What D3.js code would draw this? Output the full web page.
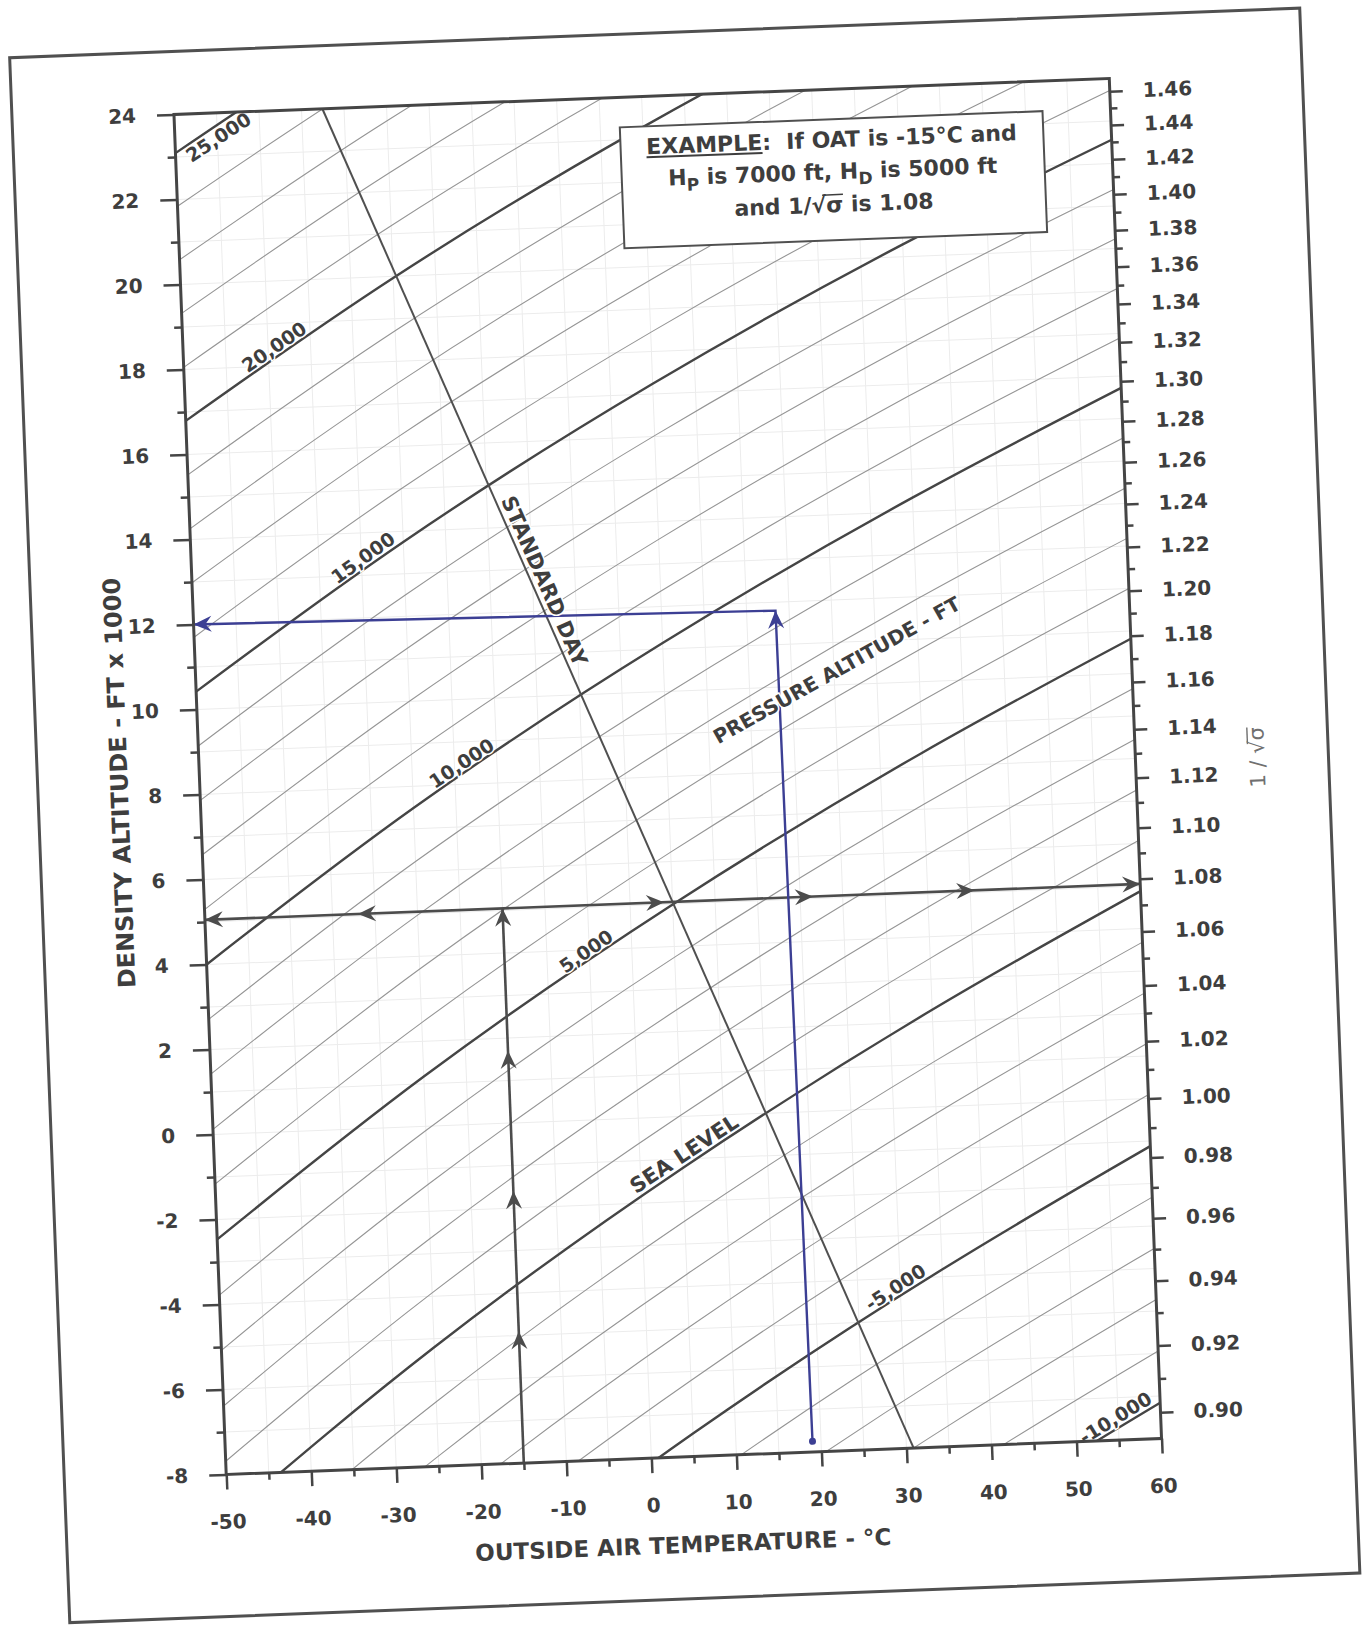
<!DOCTYPE html>
<html>
<head>
<meta charset="utf-8">
<title>Density altitude chart</title>
<script src="https://cdn.jsdelivr.net/npm/d3@7"></script>
<style>
  body { margin: 0; background: #fff; }
  svg { display: block; }
  text { font-family: "DejaVu Sans", "Liberation Sans", sans-serif; font-weight: bold; fill: #3e3e3e; }
  .tick-label { font-size: 20px; }
  .curve-label { font-size: 19px; paint-order: stroke; stroke: #fff; stroke-width: 3px; }
  .axis-title { font-size: 23px; }
</style>
</head>
<body>
<div id="chart"></div>
<script>
/**
 *  Density altitude chart
 *  OAT vs density altitude, pressure altitude lines and 1/sqrt(sigma) scale
 */

// OAT (deg C) where every pressure altitude line was read
var oatPoints = [-50, -25, 5, 35, 60];

// Thick pressure altitude lines, every 5000 ft (density altitude, ft x 1000)
var thickLabels = ['-10,000', '-5,000', 'SEA LEVEL', '5,000', '10,000', '15,000', '20,000', '25,000'];
var thickCurves = [
    [-22.23, -18.09, -13.77, -9.98, -7.16],
    [-15.59, -11.62, -7.46, -3.83, -1.12],
    [-9.01, -5.20, -1.21, 2.28, 4.88],
    [-2.47, 1.17, 4.99, 8.33, 10.82],
    [4.00, 7.49, 11.14, 14.33, 16.72],
    [10.42, 13.75, 17.24, 20.29, 22.56],
    [16.79, 19.96, 23.28, 26.18, 28.35],
    [23.09, 26.11, 29.27, 32.03, 34.09]
];
// OAT where each thick line label sits
var thickLabelOat = [55.3, 30.1, 5.9, -4.7, -18.5, -29.1, -38.6, -45.5];

// Thin pressure altitude lines, every 1000 ft in between
var thinCurves = [
    [-20.89, -16.79, -12.50, -8.74, -5.94],
    [-19.56, -15.50, -11.24, -7.51, -4.73],
    [-18.24, -14.20, -9.98, -6.28, -3.53],
    [-16.91, -12.91, -8.72, -5.05, -2.32],
    [-14.27, -10.33, -6.21, -2.60, 0.09],
    [-12.95, -9.05, -4.96, -1.38, 1.29],
    [-11.63, -7.76, -3.71, -0.16, 2.48],
    [-10.32, -6.48, -2.46, 1.06, 3.68],
    [-7.69, -3.92, 0.03, 3.49, 6.07],
    [-6.39, -2.64, 1.27, 4.70, 7.26],
    [-5.08, -1.37, 2.51, 5.91, 8.45],
    [-3.78, -0.10, 3.75, 7.12, 9.64],
    [-1.17, 2.44, 6.22, 9.53, 12.00],
    [0.12, 3.70, 7.46, 10.74, 13.18],
    [1.42, 4.97, 8.69, 11.94, 14.36],
    [2.71, 6.23, 9.91, 13.14, 15.54],
    [5.29, 8.75, 12.36, 15.53, 17.89],
    [6.58, 10.00, 13.58, 16.72, 19.06],
    [7.86, 11.25, 14.80, 17.91, 20.23],
    [9.14, 12.50, 16.02, 19.10, 21.39],
    [11.70, 15.00, 18.45, 21.47, 23.72],
    [12.98, 16.24, 19.66, 22.65, 24.88],
    [14.25, 17.48, 20.87, 23.83, 26.04],
    [15.52, 18.72, 22.07, 25.01, 27.20],
    [18.05, 21.19, 24.48, 27.36, 29.50],
    [19.32, 22.43, 25.68, 28.53, 30.65],
    [20.58, 23.66, 26.88, 29.70, 31.80],
    [21.84, 24.88, 28.07, 30.86, 32.95]
];

// Standard day line [OAT, density altitude]
var standardDay = [[-32.55, 24], [30.85, -8]];
var standardDayLabelAt = [-9.95, 12.6];
var pressureLabelAt = [25.7, 10.2];

// Axis ticks
var oatMajor = [-50, -40, -30, -20, -10, 0, 10, 20, 30, 40, 50, 60];
var oatMinor = [-45, -35, -25, -15, -5, 5, 15, 25, 35, 45, 55];
var altMajor = [-8, -6, -4, -2, 0, 2, 4, 6, 8, 10, 12, 14, 16, 18, 20, 22, 24];
var altMinor = [-7, -5, -3, -1, 1, 3, 5, 7, 9, 11, 13, 15, 17, 19, 21, 23];
var sigmaMajor = [0.90, 0.92, 0.94, 0.96, 0.98, 1.00, 1.02, 1.04, 1.06, 1.08, 1.10, 1.12, 1.14,
                  1.16, 1.18, 1.20, 1.22, 1.24, 1.26, 1.28, 1.30, 1.32, 1.34, 1.36, 1.38, 1.40,
                  1.42, 1.44, 1.46];
var sigmaMinor = sigmaMajor.slice(0, -1).map(function(v){ return +(v + 0.01).toFixed(2); });
// 1/sqrt(sigma) ends of right scale and their density altitude
var sigmaEnds = [0.90, 1.46];
var sigmaEndsAlt = [-7.38, 23.70];

// Worked example (printed, grey) and the blue pencil one
var exampleOat = -15;
var exampleAlt = 5.05;
var exampleUpArrows = [-4.9, -1.6, 1.7, 5.05];
var exampleLeftArrows = [-50, -32];
var exampleRightArrows = [4, 21.5, 40.5, 60];
var blueRoute = [[19.0, -7.75], [18.4, 11.8], [-50, 12.0]];

// Layout (scan is slightly tilted)
var W = 936, H = 1361, cx = 667.75, cy = 776.5, tilt = -2.2;
var ink = '#454545', blue = '#3c3f94';

var x = d3.scaleLinear().domain([-50, 60]).range([0, W]);
var y = d3.scaleLinear().domain([-8, 24]).range([H, 0]);
var r = d3.scalePow().exponent(-0.47).domain(sigmaEnds).range(sigmaEndsAlt.map(y));

var svg = d3.select('#chart').append('svg').attr('width', 1364).attr('height', 1627);
svg.append('rect').attr('width', 1364).attr('height', 1627).attr('fill', '#fff');
var page = svg.append('g')
    .attr('transform', 'translate(' + cx + ',' + cy + ') rotate(' + tilt + ') translate(' + (-W / 2) + ',' + (-H / 2) + ')');

// Page frame
page.append('rect')
    .attr('x', -162).attr('y', -63).attr('width', 1291).attr('height', 1566)
    .attr('fill', 'none').attr('stroke', '#505050').attr('stroke-width', 3);

page.append('clipPath').attr('id', 'plot-clip')
    .append('rect').attr('width', W).attr('height', H);
var plot = page.append('g').attr('clip-path', 'url(#plot-clip)');

// Graph paper grid
plot.append('g').selectAll('line').data(d3.range(-45, 60, 5)).join('line')
    .attr('x1', function(d){ return x(d); }).attr('x2', function(d){ return x(d); })
    .attr('y1', 0).attr('y2', H)
    .attr('stroke', '#ececec').attr('stroke-width', 1);
plot.append('g').selectAll('line').data(d3.range(-7, 24, 1)).join('line')
    .attr('y1', function(d){ return y(d); }).attr('y2', function(d){ return y(d); })
    .attr('x1', 0).attr('x2', W)
    .attr('stroke', '#ececec').attr('stroke-width', 1);

// Pressure altitude lines
var curve = d3.line()
    .x(function(d, i){ return x(oatPoints[i]); })
    .y(function(d){ return y(d); })
    .curve(d3.curveNatural);

plot.append('g').selectAll('path').data(thinCurves).join('path')
    .attr('d', curve).attr('fill', 'none')
    .attr('stroke', '#959595').attr('stroke-width', 1.1);
plot.append('g').selectAll('path').data(thickCurves).join('path')
    .attr('d', curve).attr('fill', 'none')
    .attr('stroke', ink).attr('stroke-width', 2.4);

// Standard day
var straight = d3.line().x(function(d){ return x(d[0]); }).y(function(d){ return y(d[1]); });
plot.append('path').attr('d', straight(standardDay))
    .attr('fill', 'none').attr('stroke', '#505050').attr('stroke-width', 2);

// Arrows
function arrowHead(g, px, py, angle, color){
    g.append('path')
        .attr('d', 'M0,0L-18,-8L-12,0L-18,8Z')
        .attr('transform', 'translate(' + px + ',' + py + ') rotate(' + angle + ')')
        .attr('fill', color);
}
var arrows = page.append('g');
arrows.append('path')
    .attr('d', straight([[exampleOat, -8], [exampleOat, exampleAlt]]))
    .attr('stroke', '#4c4c4c').attr('stroke-width', 2.6).attr('fill', 'none');
arrows.append('path')
    .attr('d', straight([[-50, exampleAlt], [60, exampleAlt]]))
    .attr('stroke', '#4c4c4c').attr('stroke-width', 2.6).attr('fill', 'none');
exampleUpArrows.forEach(function(a){ arrowHead(arrows, x(exampleOat), y(a), -90, '#4c4c4c'); });
exampleLeftArrows.forEach(function(t){ arrowHead(arrows, x(t), y(exampleAlt), 180, '#4c4c4c'); });
exampleRightArrows.forEach(function(t){ arrowHead(arrows, x(t), y(exampleAlt), 0, '#4c4c4c'); });

arrows.append('path').attr('d', straight(blueRoute))
    .attr('stroke', blue).attr('stroke-width', 2.4).attr('fill', 'none');
arrows.append('circle').attr('cx', x(blueRoute[0][0])).attr('cy', y(blueRoute[0][1]))
    .attr('r', 3.5).attr('fill', blue);
arrowHead(arrows, x(blueRoute[1][0]), y(blueRoute[1][1]), -90, blue);
arrowHead(arrows, x(blueRoute[2][0]), y(blueRoute[2][1]), 180, blue);

// Example box
var box = page.append('g');
box.append('rect').attr('x', 445).attr('y', 30).attr('width', 423).attr('height', 121)
    .attr('fill', '#fff').attr('stroke', '#505050').attr('stroke-width', 2);
var line1 = box.append('text').attr('x', 656).attr('y', 58).attr('text-anchor', 'middle')
    .style('font-size', '22px').style('white-space', 'pre')
    .text('EXAMPLE:  If OAT is -15°C and');
var l2 = box.append('text').attr('x', 656).attr('y', 90).attr('text-anchor', 'middle')
    .style('font-size', '22px');
l2.append('tspan').text('H');
l2.append('tspan').attr('dy', 6).style('font-size', '17px').text('P');
l2.append('tspan').attr('dy', -6).text(' is 7000 ft, H');
l2.append('tspan').attr('dy', 6).style('font-size', '17px').text('D');
l2.append('tspan').attr('dy', -6).text(' is 5000 ft');
var line3 = box.append('text').attr('x', 656).attr('y', 123).attr('text-anchor', 'middle')
    .style('font-size', '22px').text('and 1/\u221A\u03C3 is 1.08');

// underline EXAMPLE, overbar on sigma
var e0 = line1.node().getExtentOfChar(0), e6 = line1.node().getExtentOfChar(6);
box.append('line').attr('x1', e0.x).attr('x2', e6.x + e6.width).attr('y1', 61).attr('y2', 61)
    .attr('stroke', '#3e3e3e').attr('stroke-width', 2);
var rt = line3.node().getExtentOfChar(6), sg = line3.node().getExtentOfChar(7);
box.append('line').attr('x1', rt.x + rt.width * 0.75).attr('x2', sg.x + sg.width)
    .attr('y1', 123 - 17.5).attr('y2', 123 - 17.5)
    .attr('stroke', '#3e3e3e').attr('stroke-width', 1.5);

// Curve labels
function along(row, t){
    return d3.scaleLinear().domain(oatPoints).range(row)(t);
}
var labels = page.append('g');
thickLabels.forEach(function(lbl, i){
    var row = thickCurves[i], t = thickLabelOat[i];
    var ang = Math.atan2(y(along(row, t + 2)) - y(along(row, t - 2)), x(t + 2) - x(t - 2)) * 180 / Math.PI;
    labels.append('text')
        .attr('class', 'curve-label')
        .attr('transform', 'translate(' + x(t) + ',' + y(along(row, t)) + ') rotate(' + ang + ')')
        .attr('y', lbl === '25,000' ? 17 : -4)
        .attr('text-anchor', 'middle')
        .style('font-size', lbl === 'SEA LEVEL' ? '21px' : null)
        .text(lbl);
});
var sdAng = Math.atan2(y(standardDay[1][1]) - y(standardDay[0][1]), x(standardDay[1][0]) - x(standardDay[0][0])) * 180 / Math.PI;
labels.append('text')
    .attr('class', 'curve-label')
    .attr('transform', 'translate(' + x(standardDayLabelAt[0]) + ',' + y(standardDayLabelAt[1]) + ') rotate(' + sdAng + ')')
    .attr('y', -5).attr('text-anchor', 'middle').style('font-size', '21px')
    .text('STANDARD DAY');
labels.append('text')
    .attr('class', 'curve-label')
    .attr('transform', 'translate(' + x(pressureLabelAt[0]) + ',' + y(pressureLabelAt[1]) + ') rotate(-27)')
    .attr('text-anchor', 'middle').style('font-size', '20px')
    .text('PRESSURE ALTITUDE - FT');

// Plot border
page.append('rect').attr('width', W).attr('height', H)
    .attr('fill', 'none').attr('stroke', ink).attr('stroke-width', 3);

// Axes
var plain = function(d){ return String(d); };
function styleAxis(g){
    g.select('.domain').remove();
    g.selectAll('.tick line').attr('stroke', ink).attr('stroke-width', 2.5);
    g.selectAll('.tick text').attr('class', 'tick-label');
}
page.append('g')
    .call(d3.axisLeft(y).tickValues(altMinor).tickSize(8).tickFormat(''))
    .call(styleAxis);
page.append('g')
    .call(d3.axisLeft(y).tickValues(altMajor).tickSize(17).tickPadding(21).tickFormat(plain))
    .call(styleAxis);
page.append('g').attr('transform', 'translate(0,' + H + ')')
    .call(d3.axisBottom(x).tickValues(oatMinor).tickSize(7).tickFormat(''))
    .call(styleAxis);
page.append('g').attr('transform', 'translate(0,' + H + ')')
    .call(d3.axisBottom(x).tickValues(oatMajor).tickSize(15).tickPadding(25).tickFormat(plain))
    .call(styleAxis);
page.append('g').attr('transform', 'translate(' + W + ',0)')
    .call(d3.axisRight(r).tickValues(sigmaMinor).tickSize(7).tickFormat(''))
    .call(styleAxis);
page.append('g').attr('transform', 'translate(' + W + ',0)')
    .call(d3.axisRight(r).tickValues(sigmaMajor).tickSize(13).tickPadding(20).tickFormat(d3.format('.2f')))
    .call(styleAxis);

// Axis titles
page.append('text').attr('class', 'axis-title')
    .attr('x', 454).attr('y', H + 96).attr('text-anchor', 'middle')
    .text('OUTSIDE AIR TEMPERATURE - °C');
page.append('text').attr('class', 'axis-title')
    .attr('transform', 'translate(-72,666) rotate(-90)')
    .attr('text-anchor', 'middle').style('font-size', '24px')
    .text('DENSITY ALTITUDE - FT x 1000');
var rg = page.append('g').attr('transform', 'translate(1065,684) rotate(-90)');
var rtitle = rg.append('text').attr('text-anchor', 'middle')
    .style('font-size', '21px').style('font-weight', 'normal').style('fill', '#707070')
    .text('1 / \u221A\u03C3');
var rr = rtitle.node().getExtentOfChar(4), rs = rtitle.node().getExtentOfChar(5);
rg.append('line').attr('x1', rr.x + rr.width * 0.75).attr('x2', rs.x + rs.width)
    .attr('y1', -16.5).attr('y2', -16.5)
    .attr('stroke', '#707070').attr('stroke-width', 1.4);
</script>
</body>
</html>
